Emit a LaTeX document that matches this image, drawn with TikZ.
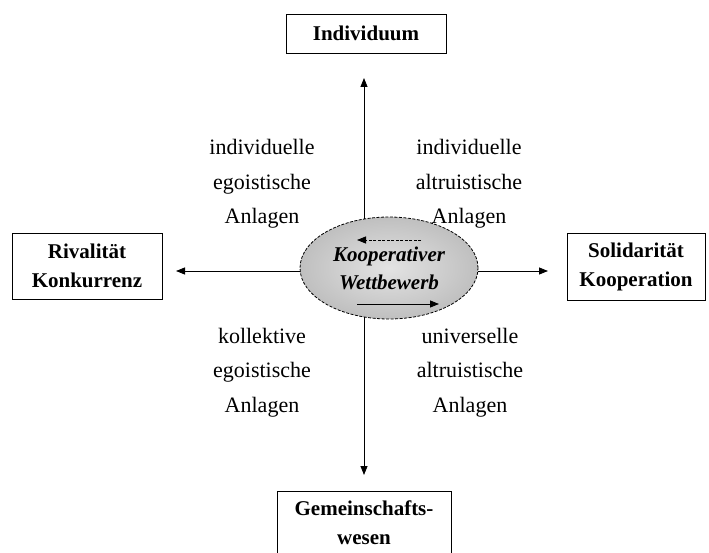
\documentclass[tikz,border=0pt]{standalone}
\usepackage{fontspec}
\setmainfont{Liberation Serif}
\usetikzlibrary{arrows.meta,shapes.geometric}
\begin{document}
\begin{tikzpicture}[x=1pt,y=-1pt,
  box/.style={draw, line width=0.8pt, align=center, inner sep=0pt,
    font=\fontsize{21}{29}\selectfont\bfseries},
  lbl/.style={align=center, inner sep=0pt, font=\fontsize{22}{34.5}\selectfont},
  axis/.style={line width=0.8pt, -{Triangle[length=9pt,width=7pt]}},
  ell/.style={ellipse, draw, dash pattern=on 3pt off 1.5pt, line width=0.8pt,
    inner sep=0pt, minimum width=178pt, minimum height=102pt, align=center,
    inner color=gray!22, outer color=gray!50,
    font=\fontsize{21}{28}\selectfont\bfseries\itshape}]
\useasboundingbox (0,0) rectangle (709,553);

\node[box, minimum width=160pt, minimum height=39pt] (ind) at (366,33.5) {Individuum};
\node[box, minimum width=150pt, minimum height=66pt] (riv) at (87,266) {Rivalität\\Konkurrenz};
\node[box, minimum width=138pt, minimum height=67pt] (sol) at (636,266.5) {Solidarität\\Kooperation};
\node[box, minimum width=174pt, anchor=north, inner ysep=9pt] (gem) at (364,491)
  {Gemeinschafts-\\wesen\rule[-25pt]{0pt}{25pt}};

\node[ell] (kw) at (389,268) {Kooperativer\\Wettbewerb};

\coordinate (ttip) at (364,78);
\coordinate (btip) at (364,475);
\coordinate (ltip) at (176,271);
\coordinate (rtip) at (548,271);
\coordinate (etop) at (364,219.5);
\coordinate (ebot) at (364,316.5);
\coordinate (eleft) at (300.3,271);
\coordinate (eright) at (477.7,271);

\draw[axis] (etop) -- (ttip);
\draw[axis] (ebot) -- (btip);
\draw[axis] (eleft) -- (ltip);
\draw[axis] (eright) -- (rtip);

\coordinate (da) at (421,240);
\coordinate (db) at (357,240);
\coordinate (sa) at (357,304);
\coordinate (sb) at (439,304);
\draw[line width=0.8pt, dash pattern=on 3pt off 1.5pt, -{Triangle[length=9pt,width=7pt]}] (da) -- (db);
\draw[line width=0.8pt, -{Triangle[length=9pt,width=7pt]}] (sa) -- (sb);

\node[lbl] (ul) at (262,184) {individuelle\\egoistische\\Anlagen};
\node[lbl] (ur) at (469,184) {individuelle\\altruistische\\Anlagen};
\node[lbl] (ll) at (262,372.5) {kollektive\\egoistische\\Anlagen};
\node[lbl] (lr) at (470,372.5) {universelle\\altruistische\\Anlagen};
\end{tikzpicture}
\end{document}
